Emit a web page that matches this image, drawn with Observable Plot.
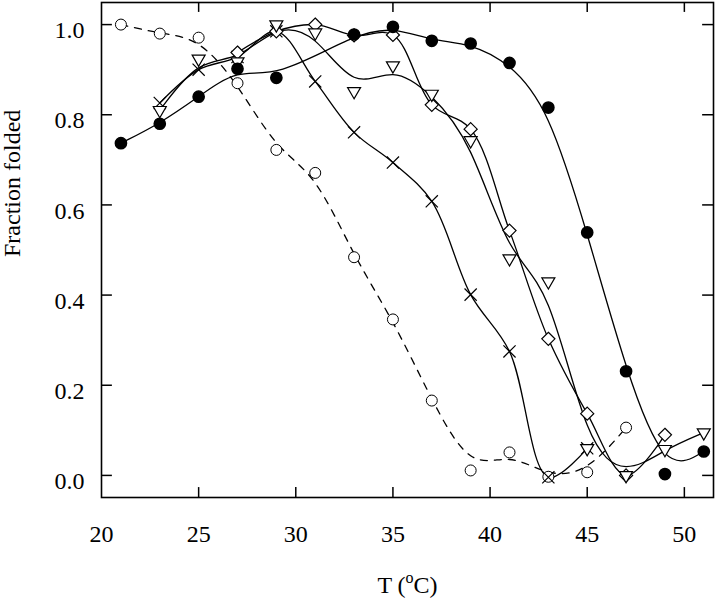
<!DOCTYPE html>
<html><head><meta charset="utf-8">
<script src="https://cdn.jsdelivr.net/npm/d3@7"></script>
<script src="https://cdn.jsdelivr.net/npm/@observablehq/plot@0.6"></script>
<style>body{margin:0;background:#fff}</style>
</head><body><div id="chart"></div>
<script>
// Tick values
const xTicks = [20, 25, 30, 35, 40, 45, 50];
const yTicks = [0.0, 0.2, 0.4, 0.6, 0.8, 1.0];

// Filled circles
const tFilled = [21, 23, 25, 27, 29, 33, 35, 37, 39, 41, 43, 45, 47, 49, 51];
const fFilled = [0.737, 0.780, 0.840, 0.902, 0.882, 0.978, 0.995, 0.964, 0.958, 0.915, 0.816, 0.539, 0.231, 0.003, 0.053];

// Open circles (dashed)
const tOpen = [21, 23, 25, 27, 29, 31, 33, 35, 37, 39, 41, 43, 45, 47];
const fOpen = [1.000, 0.980, 0.971, 0.870, 0.722, 0.671, 0.484, 0.346, 0.166, 0.011, 0.051, -0.003, 0.007, 0.106];

// Crosses
const tCross = [23, 25, 27, 29, 31, 33, 35, 37, 39, 41, 43, 45];
const fCross = [0.826, 0.900, 0.928, 0.985, 0.874, 0.761, 0.694, 0.608, 0.401, 0.275, -0.004, 0.060];

// Diamonds
const tDiam = [27, 29, 31, 33, 35, 37, 39, 41, 43, 45, 47, 49];
const fDiam = [0.938, 0.985, 1.000, 0.976, 0.977, 0.822, 0.768, 0.543, 0.303, 0.137, 0.000, 0.090];

// Down triangles
const tTri = [23, 25, 27, 29, 31, 33, 35, 37, 39, 41, 43, 45, 47, 49, 51];
const fTri = [0.810, 0.924, 0.918, 1.000, 0.982, 0.852, 0.909, 0.846, 0.743, 0.481, 0.430, 0.060, 0.000, 0.058, 0.095];

const rows = (T, F) => T.map((t, i) => ({t, f: F[i]}));
const filled = rows(tFilled, fFilled);
const open = rows(tOpen, fOpen);
const cross = rows(tCross, fCross);
const diam = rows(tDiam, fDiam);
const tri = rows(tTri, fTri);

const xDomain = [20, 51.5];
const yDomain = [-0.049, 1.049];
const tickLenY = 0.022;   // inward tick length (y units)
const tickLenX = 0.56;    // inward tick length (x units)
const innerX = xTicks.filter(d => d > xDomain[0] && d < xDomain[1]);

const lineOpts = {x: "t", y: "f", curve: "basis", stroke: "black", strokeWidth: 1.3};
const font = "'Liberation Serif', 'Times New Roman', serif";

const plot = Plot.plot({
  width: 720, height: 600,
  marginLeft: 101, marginRight: 7, marginTop: 2, marginBottom: 103,
  style: {fontFamily: font, fontSize: "24px", background: "white", color: "black"},
  x: {domain: xDomain, label: "T (oC)"},
  y: {domain: yDomain},
  marks: [
    Plot.axisX({ticks: xTicks, tickFormat: d => String(d), tickSize: 0, tickPadding: 27,
                label: "T (oC)", labelAnchor: "center", labelOffset: 95, labelArrow: "none"}),
    Plot.axisY({ticks: yTicks, tickFormat: d3.format(".1f"), tickSize: 0, tickPadding: 17, dy: 6, label: null}),
    Plot.text(["Fraction folded"], {frameAnchor: "left", rotate: -90, dx: -89, dy: 7, fontSize: 24}),
    // inward ticks on all four sides
    Plot.ruleX(innerX, {x: d => d, y1: yDomain[0], y2: yDomain[0] + tickLenY, stroke: "black", strokeWidth: 1.5}),
    Plot.ruleX(innerX, {x: d => d, y1: yDomain[1], y2: yDomain[1] - tickLenY, stroke: "black", strokeWidth: 1.5}),
    Plot.ruleY(yTicks, {y: d => d, x1: xDomain[0], x2: xDomain[0] + tickLenX, stroke: "black", strokeWidth: 1.5}),
    Plot.ruleY(yTicks, {y: d => d, x1: xDomain[1], x2: xDomain[1] - tickLenX, stroke: "black", strokeWidth: 1.5}),
    // fitted curves
    Plot.line(open, {...lineOpts, strokeDasharray: "7,7"}),
    Plot.line(filled, lineOpts),
    Plot.line(cross, {...lineOpts, curve: "catmull-rom"}),
    Plot.line(diam, {...lineOpts, curve: "catmull-rom"}),
    Plot.line(tri, lineOpts),
    // markers
    Plot.dot(open, {x: "t", y: "f", r: 5.5, fill: "white", stroke: "black", strokeWidth: 1}),
    Plot.dot(cross, {x: "t", y: "f", symbol: "times", r: 5.6, stroke: "black", strokeWidth: 1.2}),
    Plot.dot(diam, {x: "t", y: "f", symbol: "diamond2", r: 5.9, fill: "white", stroke: "black", strokeWidth: 1.2}),
    Plot.dot(tri, {x: "t", y: "f", symbol: "triangle2", rotate: 180, r: 6.2, fill: "white", stroke: "black", strokeWidth: 1.2}),
    Plot.dot(filled, {x: "t", y: "f", r: 5.6, fill: "black", stroke: "black"}),
    Plot.frame({stroke: "black", strokeWidth: 1.6})
  ]
});

// superscript "o" in the x-axis label
const xl = plot.querySelector('[aria-label="x-axis label"] text');
if (xl) {
  xl.textContent = "";
  const ns = "http://www.w3.org/2000/svg";
  const a = document.createElementNS(ns, "tspan"); a.textContent = "T (";
  const b = document.createElementNS(ns, "tspan"); b.textContent = "o"; b.setAttribute("dy", "-10"); b.setAttribute("font-size", "16");
  const c = document.createElementNS(ns, "tspan"); c.textContent = "C)"; c.setAttribute("dy", "10");
  xl.append(a, b, c);
}
document.getElementById("chart").append(plot);
</script>
</body></html>
